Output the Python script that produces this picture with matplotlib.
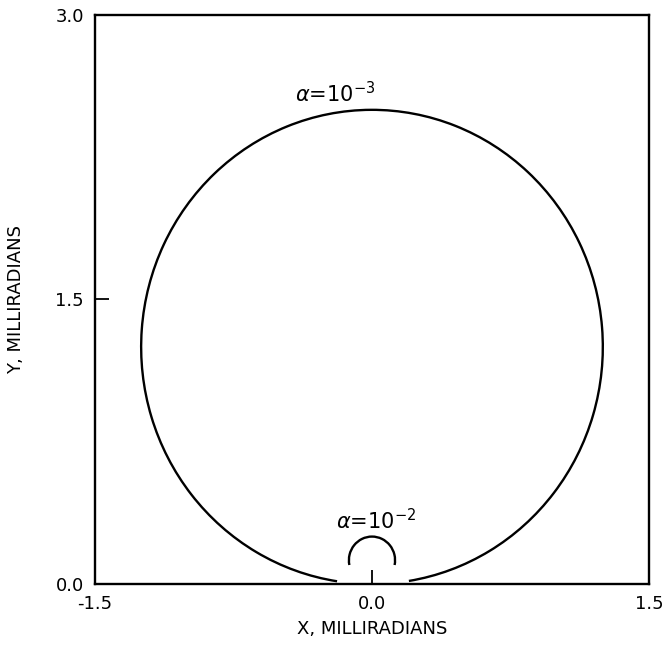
import matplotlib
matplotlib.use('Agg')
import matplotlib.pyplot as plt
from matplotlib.patches import Arc

# loci for the two values of alpha (circles through the origin)
alpha_labels = [r'$\alpha$=$10^{-3}$', r'$\alpha$=$10^{-2}$']
radii = [1.25, 0.125]            # milliradians
arc_start = [279.2, -11.5]       # degrees, measured from the circle centre
arc_end = [621.3, 191.5]
label_x = [-0.2, 0.02]
label_y = [2.54, 0.29]

x_ticks = [-1.5, 0.0, 1.5]
y_ticks = [0.0, 1.5, 3.0]
x_ticklabels = ['-1.5', '0.0', '1.5']
y_ticklabels = ['0.0', '1.5', '3.0']

plt.rcParams['font.family'] = ['DejaVu Sans']
plt.rcParams['mathtext.fontset'] = 'dejavusans'

fig = plt.figure(figsize=(6.67, 6.52), dpi=100)
ax = fig.add_axes([0.1424, 0.1043, 0.8306, 0.8727])

for r, t1, t2, lab, lx, ly in zip(radii, arc_start, arc_end, alpha_labels, label_x, label_y):
    ax.add_patch(Arc((0.0, r), 2 * r, 2 * r, theta1=t1, theta2=t2,
                     color='black', lw=1.7))
    ax.text(lx, ly, lab, ha='center', va='baseline', fontsize=15)

ax.set_xlim(-1.5, 1.5)
ax.set_ylim(0.0, 3.0)
ax.set_xticks(x_ticks)
ax.set_xticklabels(x_ticklabels)
ax.set_yticks(y_ticks)
ax.set_yticklabels(y_ticklabels)
ax.tick_params(direction='in', length=10, width=1.3, labelsize=13, pad=8)

for s in ax.spines.values():
    s.set_linewidth(1.7)

ax.set_xlabel('X, MILLIRADIANS', fontsize=13, labelpad=5)
ax.set_ylabel('Y, MILLIRADIANS', fontsize=13, labelpad=22)

fig.savefig('out.png', dpi=100)
